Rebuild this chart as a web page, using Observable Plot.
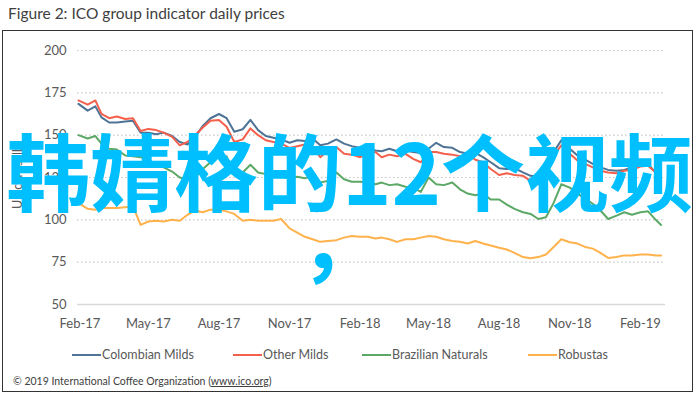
<!DOCTYPE html>
<html>
<head>
<meta charset="utf-8">
<script src="https://cdn.jsdelivr.net/npm/d3@7"></script>
<script src="https://cdn.jsdelivr.net/npm/@observablehq/plot@0.6"></script>
<style>
  html, body { margin: 0; padding: 0; background: #fff; }
  #wrap { position: relative; width: 695px; height: 394px; overflow: hidden; font-family: Lato, "Open Sans", sans-serif; }
  #title { position: absolute; left: 8px; top: 4px; font-size: 15.5px; color: #404040; white-space: nowrap; }
  #box { position: absolute; left: 2px; top: 30px; width: 689px; height: 360px; border: 1px solid #333; }
  #chart { position: absolute; left: 0; top: 40px; }
  #ylabel { position: absolute; left: 17px; top: 177px; transform: translate(-50%, -50%) rotate(-90deg); font-size: 12.5px; color: #595959; white-space: nowrap; }
  .leg { position: absolute; top: 347px; font-size: 12.5px; color: #595959; white-space: nowrap; display: flex; align-items: center; }
  .leg span.sw { display: inline-block; width: 29px; height: 0; border-top: 2px solid; margin-right: 1px; }
  #caption { position: absolute; left: 13px; top: 375px; font-size: 10.5px; color: #404040; white-space: nowrap; }
  #caption u { text-decoration: underline; }
  .ov { position: absolute; left: 0; width: 695px; text-align: center; font-family: "Noto Sans CJK SC", sans-serif; font-weight: 700; font-size: 84px; line-height: 84px; color: #00bfff; white-space: nowrap; z-index: 5; }
</style>
</head>
<body>
<div id="wrap">
  <div id="title">Figure 2: ICO group indicator daily prices</div>
  <div id="box"></div>
  <div id="chart"></div>
  <div id="ylabel">US cents/lb</div>
  <div id="legend"></div>
  <div id="caption">© 2019 International Coffee Organization (<u>www.ico.org</u>)</div>
  <div class="ov" style="top:127px; left:2px">韩婧格的12个视频</div>
  <div class="ov" style="top:195px; left:-6px">，</div>
</div>
<script>
const seriesNames = ["Colombian Milds", "Other Milds", "Brazilian Naturals", "Robustas"];
const seriesColors = ["#4e7394", "#f4604c", "#5ca866", "#ffb24c"];

const dates = ["2017-01-30","2017-02-11","2017-02-21","2017-03-01","2017-03-11","2017-03-21","2017-04-01","2017-04-11","2017-04-21","2017-05-01","2017-05-11","2017-05-21","2017-06-01","2017-06-11","2017-06-21","2017-07-01","2017-07-11","2017-07-21","2017-08-01","2017-08-11","2017-08-21","2017-09-01","2017-09-11","2017-09-21","2017-10-01","2017-10-11","2017-10-21","2017-11-01","2017-11-11","2017-11-21","2017-12-01","2017-12-11","2017-12-21","2018-01-01","2018-01-11","2018-01-21","2018-02-01","2018-02-11","2018-02-21","2018-03-01","2018-03-11","2018-03-21","2018-04-01","2018-04-11","2018-04-21","2018-05-01","2018-05-11","2018-05-21","2018-06-01","2018-06-11","2018-06-21","2018-07-01","2018-07-11","2018-07-21","2018-08-01","2018-08-11","2018-08-21","2018-09-01","2018-09-11","2018-09-21","2018-10-01","2018-10-11","2018-10-21","2018-11-01","2018-11-11","2018-11-21","2018-12-01","2018-12-11","2018-12-21","2019-01-01","2019-01-11","2019-01-21","2019-02-01","2019-02-11","2019-02-21","2019-02-28"];

const colombianMilds = [168.5,164.5,167,160.5,157.5,157.5,158,158.5,151.5,151.5,
  150.5,151.5,149.5,146,144.5,149,155.5,160,162.5,160,
  152,153.5,159,153,149.5,148.5,147.5,145.5,147,146.5,
  148,144,145,147.5,145,143.5,142.5,142,141,140.5,
  142,140.5,141,140,139.5,142,145.5,143,142.5,140,
  139,139.5,137,134,130.5,130,130.5,128,126,125.5,
  128.5,140,147,142,138,135.5,133,131,129.5,129,
  129.5,131,133,132.5,128,125];

const otherMilds = [170.5,168,170.5,162.6,160,161,159.5,160,152.5,153.7,
  153,151.5,149,144,146,150,154.5,158.5,159,155,
  146,147.5,154,150,147,146,145,142.5,143.5,144.5,
  143,137,141,143,139,138.5,137,139,140,137,
  138.5,137.5,139,136,134,140,140,139,138.5,137.5,
  138,135.5,134,130,126.5,127.5,126.5,126,123,121,
  125,138,144,139,135,133,131,129,128,127.5,
  129,129.5,131.5,132,128,125];

const brazilianNaturals = [150,148,149.5,145,142,141.5,138,137.5,137,135,
  133.5,131,128.5,125,123.5,125,130,134,137,137.5,
  126.5,128,132.5,128,127,125.5,125.5,124.5,125.5,124.5,
  126,122,123,128,124,122.5,122.5,122,121,122,
  120.5,121,119.5,119,116.5,125,121,120.5,122,118,
  115.5,114.5,115.5,112,112,109,106.5,104.5,103.5,100.5,
  101.5,110,121,119,115.5,112.5,109.5,105.5,100.5,102.5,
  104.5,103,104.5,105,100,97];

const robustas = [110,106.5,106,107,107,107,107.5,108,97,99,
  99.5,99,100,99.5,103,105.5,104.5,106,106,105,
  103.5,99.5,100,99.5,99.5,99.5,100.5,95,92.5,90,
  88.5,87,87.5,88,89.5,90.5,90,90,89,89.5,
  88.5,87,88.5,88.5,89.5,90.5,90,88.5,87.5,87,
  86,87.5,86,84.8,83.5,82.5,80.5,78,77.3,78,
  79.5,84,88.5,86.8,86,84,83,80.5,77.5,78,
  79,79,79.5,79.5,79,79];

const xTickLabels = ["2017-02-01","2017-05-01","2017-08-01","2017-11-01","2018-02-01","2018-05-01","2018-08-01","2018-11-01","2019-02-01"];
const yTicks = [50, 75, 100, 125, 150, 175, 200];

const seriesValues = [colombianMilds, otherMilds, brazilianNaturals, robustas];
const data = [];
seriesNames.forEach((name, i) => {
  seriesValues[i].forEach((v, j) => data.push({series: name, date: new Date(dates[j] + "T00:00Z"), value: v}));
});

const chart = Plot.plot({
  width: 695,
  height: 300,
  marginLeft: 77,
  marginRight: 30,
  marginTop: 10,
  marginBottom: 36,
  style: {fontFamily: "Lato, 'Open Sans', sans-serif", fontSize: "13px", color: "#595959", background: "transparent", overflow: "visible"},
  x: {type: "utc", domain: [new Date("2017-01-28T18:00Z"), new Date("2019-03-05T17:00Z")],
      ticks: xTickLabels.map(d => new Date(d + "T00:00Z")), tickFormat: d3.utcFormat("%b-%y"),
      tickSize: 0, tickPadding: 14, label: null},
  y: {domain: [50, 200], ticks: yTicks, tickSize: 0, tickPadding: 11, label: null},
  color: {domain: seriesNames, range: seriesColors},
  marks: [
    Plot.ruleY(yTicks.filter(d => d > 50), {stroke: "#c8c8c8", strokeDasharray: "1.5,2.5", strokeWidth: 1.2}),
    Plot.ruleY([50], {stroke: "#d9d9d9", strokeWidth: 1.5}),
    Plot.lineY(data, {x: "date", y: "value", z: "series", stroke: "series", strokeWidth: 2, strokeLinejoin: "round"})
  ]
});
document.getElementById("chart").appendChild(chart);

const legendX = [72, 233, 362, 528];
const legend = document.getElementById("legend");
seriesNames.forEach((name, i) => {
  const item = document.createElement("div");
  item.className = "leg";
  item.style.left = legendX[i] + "px";
  const sw = document.createElement("span");
  sw.className = "sw";
  sw.style.borderTopColor = seriesColors[i];
  item.appendChild(sw);
  item.appendChild(document.createTextNode(name));
  legend.appendChild(item);
});
</script>
</body>
</html>
